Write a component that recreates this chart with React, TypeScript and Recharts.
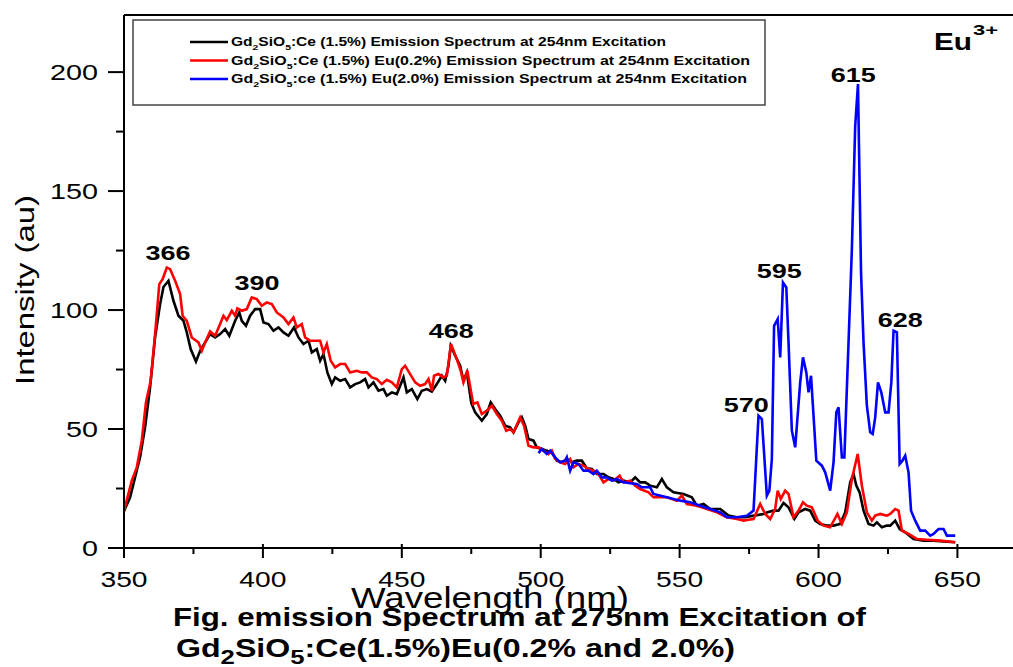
import { LineChart, Line, XAxis, YAxis, ReferenceLine, ReferenceDot } from 'recharts';

// Gd2SiO5:Ce (1.5%)
const blackNm = [
  350, 352.2, 354, 355.8, 357.6, 359.4, 361.2, 363, 364.2, 366,
  367.8, 369.6, 371.4, 372.6, 374, 375.9, 377.4, 379.2, 381, 382.8,
  384.6, 386.4, 387.9, 390, 391.5, 392.4, 393.9, 395.4, 397.2, 399,
  400.2, 402, 403.8, 405.6, 407.4, 409.2, 411.2, 412.8, 414.6, 416.4,
  417.6, 419.4, 420.6, 421.8, 423.2, 424.8, 426, 427.8, 429.6, 431.4,
  433.2, 435, 436.8, 438, 439.8, 441.6, 443.4, 444.6, 446.4, 448.2,
  450.6, 451.8, 453.6, 455.6, 457.2, 459, 460.8, 462.6, 464.4, 465.6,
  466.8, 467.6, 469.5, 471, 472.2, 473.4, 475, 476.4, 478.8, 480.6,
  482, 483.6, 485.4, 487.2, 489, 490.2, 492, 493.2, 494.4, 495.6,
  497.4, 498.6, 500.4, 502.2, 504, 505.8, 507.6, 509.4, 511.2, 513,
  514.8, 516.6, 518.4, 520.2, 522.6, 524.4, 526.2, 528, 529.8, 532.2,
  534, 535.8, 537.6, 539.4, 541.8, 543.6, 545.4, 547.8, 551.4, 554.4,
  556.2, 558.6, 561, 564.6, 567.6, 570.6, 573.6, 576.7, 580.3, 581.6,
  583.8, 585.6, 587.4, 589.2, 591.3, 592.8, 595.2, 597, 598.8, 600.6,
  603, 605.4, 607.8, 609.6, 611.4, 612.6, 613.6, 614.8, 616.2, 618,
  619.8, 621, 622.8, 624.6, 625.8, 627.6, 629.2, 631.2, 634.2, 637.8,
  641.4, 645, 649.2,
];
const blackInt = [
  15.5, 21.3, 29.8, 38.2, 50.8, 67.6, 88.7, 102.5, 109.7, 112.3,
  103.9, 97.6, 95.5, 90.6, 83.6, 78.4, 82.9, 86.4, 89.9, 88.5,
  89.9, 92, 89.2, 95.5, 99, 95.5, 93.4, 97.6, 100.4, 100.4,
  94.8, 94.1, 91.3, 92.7, 90.6, 89.2, 92.7, 88.5, 85.7, 87.1,
  82.2, 83.6, 78.7, 81.5, 73.8, 68.9, 71.7, 70.3, 71, 67.5,
  68.9, 69.6, 71, 67.5, 69.6, 66.1, 66.8, 64, 65.4, 64.7,
  71.7, 65.4, 66.8, 62.6, 66.1, 66.8, 65.7, 68.9, 72.4, 70.3,
  76.6, 85, 80.1, 76.6, 70.3, 73.8, 61, 57, 53.5, 56.3,
  61.2, 58.4, 55.6, 51.4, 50.7, 48.6, 52.8, 54.9, 51.4, 45.8,
  45.1, 42.3, 41.6, 40.9, 40.2, 36.7, 36, 37.4, 36, 36.7,
  36.7, 33.5, 33.2, 31.1, 31.1, 29.7, 29, 27.6, 28.3, 27.6,
  29.7, 27.6, 27.6, 26.2, 25.5, 29, 25.5, 23.4, 22.7, 21.3,
  17.8, 18.5, 16.4, 16.4, 13.6, 12.9, 12.9, 13.6, 14.3, 15,
  15.7, 15.7, 18.9, 17.1, 12.2, 15, 16.4, 15.7, 11.5, 10.1,
  9.4, 9.4, 10.1, 15, 27.6, 31.1, 26.2, 23.4, 15.7, 10.1,
  9.4, 10.8, 8.7, 9.4, 9.4, 11.5, 8, 6.6, 3.8, 3.1,
  3.1, 2.8, 2.4,
];

// Gd2SiO5:Ce (1.5%) Eu (0.2%)
const redNm = [
  350, 352.8, 354.6, 356.4, 357.9, 359.6, 361.2, 362.7, 363.9, 365.4,
  366.6, 368.4, 370.2, 371.1, 372.6, 374.4, 375.6, 376.8, 378, 379.2,
  381, 382.8, 384.6, 385.8, 387, 388.8, 390, 390.8, 392.4, 394.2,
  396, 397.8, 399.6, 401.4, 403.2, 405, 407.4, 409.2, 411, 412.2,
  414, 415.2, 417, 418.8, 420.6, 421.8, 423, 424.4, 426, 427.8,
  429.6, 431.4, 433.8, 435.6, 437.4, 439.2, 441, 442.8, 444.6, 446.4,
  448.2, 450, 451.2, 453, 454.8, 456.6, 458.4, 459.6, 460.8, 461.6,
  463.2, 465, 466.2, 467.7, 469.8, 471.2, 472.2, 473.6, 475.7, 477.2,
  478.8, 480.6, 482.4, 484.2, 486, 487.6, 489, 490.2, 492.6, 494,
  495.6, 497.4, 499.2, 501, 502.8, 504, 505.2, 507, 508.8, 510.6,
  511.8, 513.6, 515.4, 517.2, 519, 520.8, 522.6, 524.4, 526.2, 528.4,
  529.8, 532.2, 534, 535.8, 538.8, 540.6, 545.4, 549, 550.8, 552.6,
  556.2, 559.8, 563.4, 567, 570.6, 573.1, 574.2, 576.6, 579, 580.8,
  582.6, 584.4, 585.3, 586.4, 588, 589.2, 591, 592.8, 594.4, 595.8,
  597.6, 599.7, 601.8, 604.2, 606.8, 608.4, 610.2, 612, 614.1, 615.6,
  617.4, 619.2, 620.4, 622.2, 624.6, 625.8, 627.6, 628.8, 630, 632.4,
  635.4, 639, 643.8, 649.2,
];
const redInt = [
  15.5, 28.3, 33.9, 45.1, 61.2, 70.3, 89.9, 110.9, 113, 117.9,
  117.2, 112.3, 106.7, 97.6, 95.5, 88.5, 87.4, 86.4, 82.9, 86.4,
  91, 89.2, 94.1, 97.6, 95.8, 99.7, 97.6, 100.7, 99.7, 100.4,
  105.3, 104.6, 101.8, 103.2, 102.5, 99, 96.9, 94.1, 96.9, 92.7,
  94.1, 88.5, 87.1, 87.1, 87.1, 82.2, 85.7, 78.7, 75.9, 77.3,
  77.3, 73.8, 74.5, 73.8, 73.8, 71.7, 71, 68.9, 70.7, 69.6,
  67.5, 75.2, 76.6, 73.1, 69.6, 68.2, 68.9, 71, 66.1, 72.4,
  73.1, 71.7, 72.4, 85.7, 79.4, 74.5, 69.6, 74.5, 60.5, 61.2,
  56.3, 57.7, 59.8, 56.3, 53.5, 49.3, 50, 48.6, 54.9, 51.4,
  43, 42.3, 42.3, 40.9, 39.5, 40.9, 37.4, 36, 35.3, 37.4,
  33.9, 35.3, 34.6, 33.2, 32.5, 31.1, 27.6, 29, 28.3, 30.4,
  27.6, 28.3, 26.2, 24.8, 23.4, 21.3, 21.3, 19.9, 22, 18.5,
  17.8, 16.4, 15, 12.9, 12.2, 11.5, 11.8, 12.2, 18.5, 14.3,
  12.2, 16.4, 24.1, 20.6, 24.1, 22.7, 12.9, 15.7, 19.2, 17.8,
  17.1, 11.5, 9.4, 8.7, 14.3, 10.1, 15, 29, 39.5, 26.2,
  15, 11.5, 13.6, 14.3, 13.6, 14.3, 16.4, 15.7, 7.3, 5.9,
  3.8, 3.5, 3.1, 2.4,
];

// Gd2SiO5:Ce (1.5%) Eu (2.0%)
const blueNm = [
  499.2, 500.4, 502.2, 503.4, 505.2, 507, 508.8, 509.4, 510.6, 511.8,
  513.6, 515.4, 517.2, 519, 520.2, 522, 523.8, 525.6, 527.4, 529.8,
  532.2, 534.6, 536.4, 539.4, 540.6, 545.4, 550.2, 553.8, 557.4, 561,
  564.6, 567, 570.6, 574.2, 576.6, 578.4, 579.6, 581.4, 582.3, 583.2,
  584, 585.3, 586.2, 587.2, 588.4, 589.2, 590.4, 591.6, 593.4, 594.4,
  595.6, 596.4, 597.3, 598.2, 599.2, 601.2, 602.4, 604.2, 605.4, 606.4,
  607.2, 608.4, 609.3, 610.8, 612, 613.2, 614.2, 615.3, 616.2, 617.4,
  618.6, 619.5, 620.4, 621.4, 622.6, 624, 625.2, 626.2, 627, 628.2,
  629.2, 630.2, 631.2, 632.4, 633.3, 634.8, 636.6, 638.4, 640.2, 641.4,
  643.2, 645, 646.2, 649.2,
];
const blueInt = [
  39.9, 41.6, 39.5, 40.9, 38.1, 36, 36.7, 38.1, 32.5, 36,
  35.3, 32.5, 32.5, 31.1, 32.5, 29.7, 29.7, 28.3, 29, 27.6,
  27.2, 26.9, 25.5, 25.5, 22.7, 21.3, 19.9, 19.2, 17.8, 16.4,
  15, 12.9, 12.9, 13.5, 15.7, 55.6, 54.2, 22, 24.1, 37.4,
  93.4, 96.2, 80.1, 111.6, 109.5, 86.4, 49.3, 42.3, 69.6, 80.1,
  73.8, 65.4, 72.4, 55.6, 36.7, 34.6, 31.8, 24.1, 36, 57,
  59.1, 38.1, 38.1, 86.4, 125.6, 177.4, 195, 115.8, 86.4, 59.8,
  48.6, 47.9, 54.9, 69.6, 65.4, 57, 57, 69.6, 91.3, 90.6,
  35.3, 36.7, 38.8, 31.8, 15.7, 11.5, 7.3, 7.3, 5.2, 5.9,
  8, 8, 5.2, 5.2,
];

// peak annotations: text, wavelength and intensity where the label sits
const peakText = ['366', '390', '468', '570', '595', '615', '628'];
const peakNm = [365.8, 397.9, 467.8, 574, 585.9, 612.5, 629.4];
const peakAt = [121, 108.4, 88.2, 57.1, 113.4, 195.8, 92.9];

const xTicks = [350, 375, 400, 425, 450, 475, 500, 525, 550, 575, 600, 625, 650];
const yTicks = [0, 25, 50, 75, 100, 125, 150, 175, 200];

const toRows = (nm: number[], v: number[]) => nm.map((x, i) => ({ nm: x, v: v[i] }));
const blackData = toRows(blackNm, blackInt);
const redData = toRows(redNm, redInt);
const blueData = toRows(blueNm, blueInt);

const SANS = 'Liberation Sans, Arial, sans-serif';

function XTick({ x, y, payload }: any) {
  const major = payload.value % 50 === 0;
  const s = String(payload.value);
  return (
    <g>
      <line x1={x} x2={x} y1={major ? y - 4 : y} y2={major ? y + 10 : y + 6} stroke="#000" strokeWidth={2} />
      {major && (
        <text x={x} y={y + 39} textAnchor="middle" fontFamily={SANS} fontSize={22}
          textLength={s.length * 15.7} lengthAdjust="spacingAndGlyphs" fill="#000">{s}</text>
      )}
    </g>
  );
}

function TopTick({ x }: any) {
  return <line x1={x} x2={x} y1={10} y2={15} stroke="#000" strokeWidth={1.5} />;
}

function YTick({ x, y, payload }: any) {
  const major = payload.value % 50 === 0;
  const s = String(payload.value);
  return (
    <g>
      <line x1={major ? x - 16 : x - 8} x2={x} y1={y} y2={y} stroke="#000" strokeWidth={2} />
      {major && (
        <text x={x - 26} y={y + 8} textAnchor="end" fontFamily={SANS} fontSize={22}
          textLength={s.length * 16} lengthAdjust="spacingAndGlyphs" fill="#000">{s}</text>
      )}
    </g>
  );
}

function PeakLabel({ cx, cy, text }: any) {
  return (
    <text x={cx} y={cy} textAnchor="middle" fontFamily={SANS} fontWeight="bold" fontSize={21}
      textLength={45} lengthAdjust="spacingAndGlyphs" fill="#000">{text}</text>
  );
}

// formula text: Gd₂SiO₅ written with lowered small digits
function Formula({ size }: { size: number }) {
  const sub = Math.round(size * 0.7);
  const dy = Math.round(size * 0.3);
  return (
    <>
      <tspan>Gd</tspan>
      <tspan fontSize={sub} dy={dy}>2</tspan>
      <tspan dy={-dy}>SiO</tspan>
      <tspan fontSize={sub} dy={dy}>5</tspan>
      <tspan dy={-dy}>:</tspan>
    </>
  );
}

const legendRows = [
  { color: '#000000', rest: 'Ce (1.5%) Emission Spectrum at 254nm Excitation', len: 435 },
  { color: '#ff0000', rest: 'Ce (1.5%) Eu(0.2%) Emission Spectrum at 254nm Excitation', len: 519 },
  { color: '#0000ff', rest: 'ce (1.5%) Eu(2.0%) Emission Spectrum at 254nm Excitation', len: 516 },
];

export default function App() {
  return (
    <div style={{ position: 'absolute', left: 0, top: 0, width: 1013, height: 667, background: '#fff' }}>
      <LineChart width={1013} height={667} margin={{ top: 15, right: 0, bottom: 0, left: 0 }}>
        <XAxis type="number" dataKey="nm" domain={[350, 670]} ticks={xTicks} height={119}
          tick={<XTick />} tickLine={false} tickSize={0} tickMargin={0} interval={0}
          axisLine={{ stroke: '#000', strokeWidth: 2 }} allowDataOverflow />
        <XAxis xAxisId="top" orientation="top" type="number" domain={[350, 670]} ticks={xTicks}
          height={0} tick={<TopTick />} tickLine={false} axisLine={false} interval={0} />
        <YAxis type="number" domain={[0, 224]} ticks={yTicks} width={124}
          tick={<YTick />} tickLine={false} tickSize={0} tickMargin={0} interval={0}
          axisLine={{ stroke: '#000', strokeWidth: 2 }} allowDataOverflow />
        <ReferenceLine y={224} stroke="#000" strokeWidth={2} />
        <Line data={blackData} dataKey="v" type="linear" stroke="#000000" strokeWidth={2.6}
          dot={false} isAnimationActive={false} />
        <Line data={redData} dataKey="v" type="linear" stroke="#ff0000" strokeWidth={2.6}
          dot={false} isAnimationActive={false} />
        <Line data={blueData} dataKey="v" type="linear" stroke="#0000ff" strokeWidth={2.6}
          dot={false} isAnimationActive={false} />
        {peakText.map((t, i) => (
          <ReferenceDot key={t} x={peakNm[i]} y={peakAt[i]} r={0}
            shape={(p: any) => <PeakLabel cx={p.cx} cy={p.cy} text={t} />} />
        ))}
      </LineChart>

      <svg width={1013} height={667} style={{ position: 'absolute', left: 0, top: 0, pointerEvents: 'none' }}>
        {/* legend box */}
        <rect x={133} y={20} width={632} height={85} fill="#fff" stroke="#444" strokeWidth={1.5} />
        {legendRows.map((r, i) => {
          const cy = 42 + i * 18.5;
          return (
            <g key={i}>
              <line x1={190} x2={228} y1={cy} y2={cy} stroke={r.color} strokeWidth={2.5} />
              <text x={231} y={cy + 4} fontFamily={SANS} fontWeight="bold" fontSize={12}
                textLength={r.len} lengthAdjust="spacingAndGlyphs" fill="#000">
                <Formula size={12} />
                <tspan>{r.rest}</tspan>
              </text>
            </g>
          );
        })}

        {/* Eu3+ tag */}
        <text x={934} y={50} fontFamily={SANS} fontWeight="bold" fontSize={23}
          textLength={38} lengthAdjust="spacingAndGlyphs">Eu</text>
        <text x={973} y={35} fontFamily={SANS} fontWeight="bold" fontSize={15}
          textLength={25} lengthAdjust="spacingAndGlyphs">3+</text>

        {/* axis titles */}
        <text x={490} y={608} textAnchor="middle" fontFamily={SANS} fontSize={30}
          textLength={278} lengthAdjust="spacingAndGlyphs">Wavelength (nm)</text>
        <text transform="translate(34 290) rotate(-90)" textAnchor="middle" fontFamily={SANS} fontSize={25}
          textLength={190} lengthAdjust="spacingAndGlyphs">Intensity (au)</text>

        {/* caption */}
        <text x={173} y={626} fontFamily={SANS} fontWeight="bold" fontSize={25}
          textLength={693} lengthAdjust="spacingAndGlyphs">Fig. emission Spectrum at 275nm Excitation of</text>
        <text x={176} y={657} fontFamily={SANS} fontWeight="bold" fontSize={25}
          textLength={559} lengthAdjust="spacingAndGlyphs">
          <tspan>Gd</tspan>
          <tspan fontSize={20} dy={7}>2</tspan>
          <tspan dy={-7}>SiO</tspan>
          <tspan fontSize={20} dy={7}>5</tspan>
          <tspan dy={-7}>:Ce(1.5%)Eu(0.2% and 2.0%)</tspan>
        </text>
      </svg>
    </div>
  );
}
